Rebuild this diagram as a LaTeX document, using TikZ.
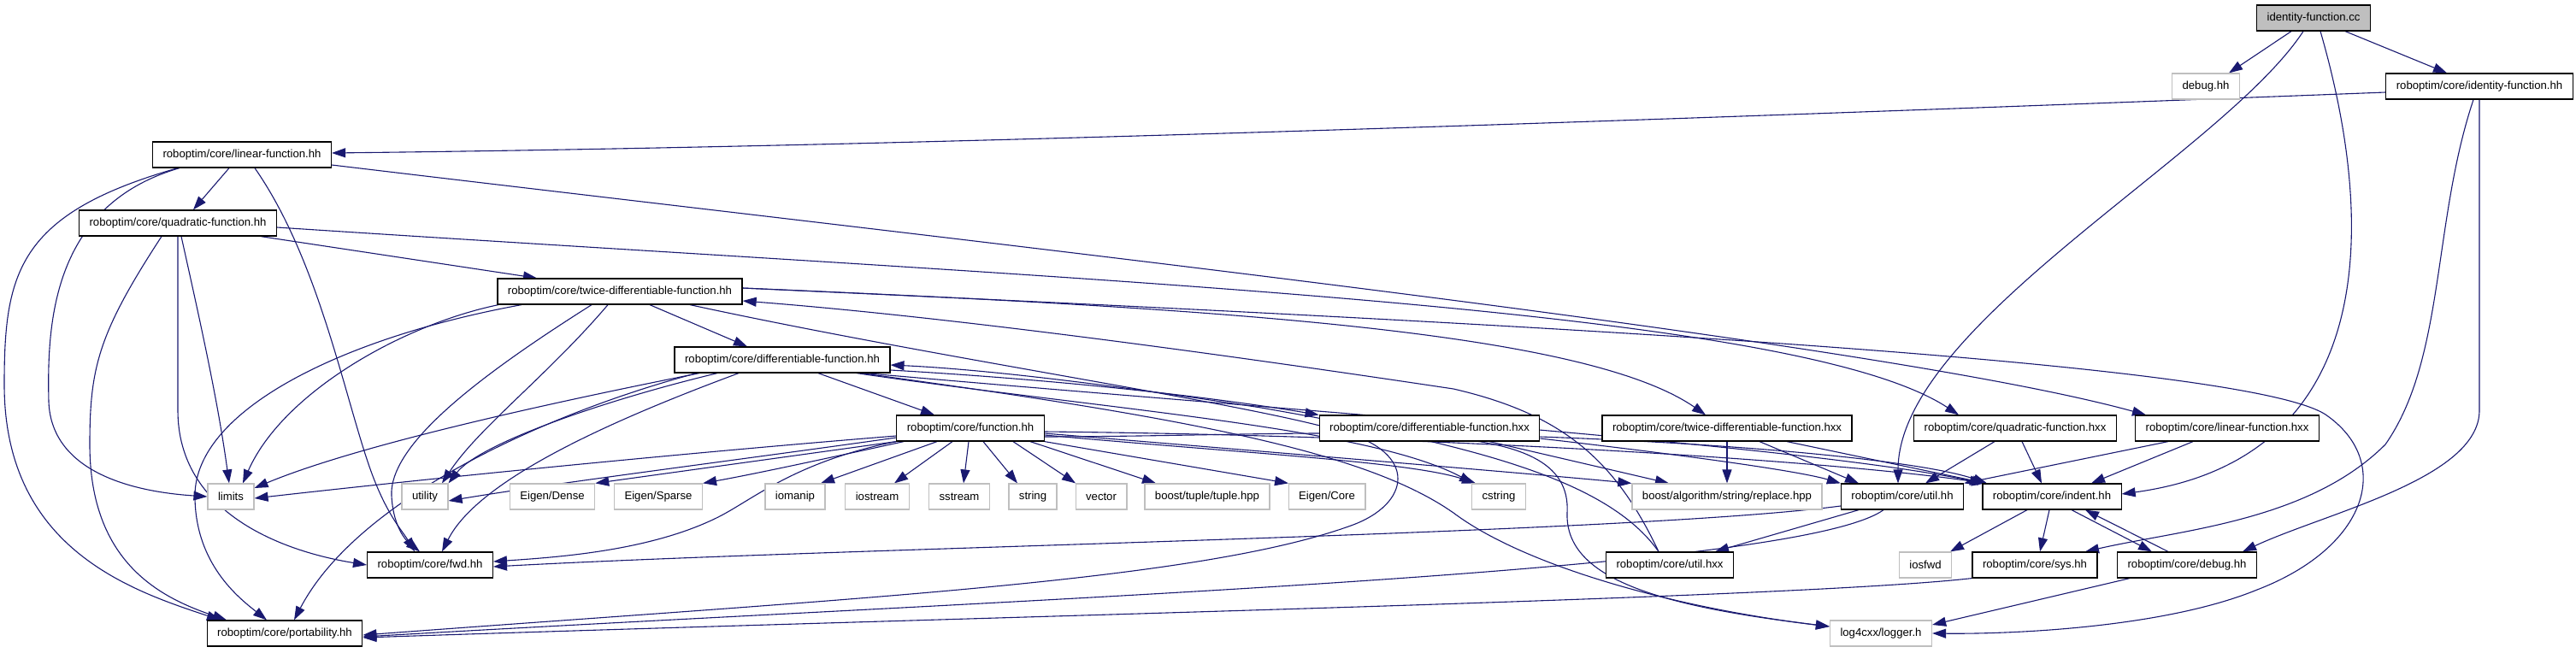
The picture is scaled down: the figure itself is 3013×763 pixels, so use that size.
\documentclass[tikz,border=0pt]{standalone}
\usepackage{fontspec}
\setmainfont{Liberation Sans}
\usetikzlibrary{arrows.meta}
\definecolor{edgec}{HTML}{191970}
\definecolor{extc}{HTML}{BFBFBF}
\pgfdeclarelayer{bg}
\pgfsetlayers{bg,main}
\begin{document}
\begin{tikzpicture}[x=1pt,y=-1pt,
  fnode/.style={draw=black, fill=white, line width=1.2pt, minimum height=30pt,
    inner xsep=12pt, inner ysep=0pt, font=\fontsize{13.15pt}{15pt}\selectfont},
  xnode/.style={fnode, draw=extc},
  rnode/.style={fnode, fill=extc},
  dep/.style={draw=edgec, line width=1.1pt, -{Triangle[length=16pt,width=11pt]}}]
\useasboundingbox (0,0) rectangle (3013,763);
% row 0-1
\node[rnode] (cc) at (2706,21) {identity-function.cc};
\node[xnode] (dbgx) at (2580,101) {debug.hh};
\node[fnode] (idh) at (2900,101) {roboptim/core/identity-function.hh};
% rows 2-5
\node[fnode] (lin) at (283,181) {roboptim/core/linear-function.hh};
\node[fnode] (quad) at (208,261) {roboptim/core/quadratic-function.hh};
\node[fnode] (twice) at (725,341) {roboptim/core/twice-differentiable-function.hh};
\node[fnode] (diff) at (915,421) {roboptim/core/differentiable-function.hh};
% row 6
\node[fnode] (func) at (1135,501) {roboptim/core/function.hh};
\node[fnode] (diffx) at (1672,501) {roboptim/core/differentiable-function.hxx};
\node[fnode] (twicex) at (2020,501) {roboptim/core/twice-differentiable-function.hxx};
\node[fnode] (quadx) at (2357,501) {roboptim/core/quadratic-function.hxx};
\node[fnode] (linx) at (2605,501) {roboptim/core/linear-function.hxx};
% row 7
\node[xnode] (limits) at (270,581) {limits};
\node[xnode] (utility) at (497,581) {utility};
\node[xnode] (edense) at (646,581) {Eigen/Dense};
\node[xnode] (esparse) at (770,581) {Eigen/Sparse};
\node[xnode] (iomanip) at (930,581) {iomanip};
\node[xnode] (iostream) at (1026,581) {iostream};
\node[xnode] (sstream) at (1122,581) {sstream};
\node[xnode] (string) at (1208,581) {string};
\node[xnode] (vector) at (1288,581) {vector};
\node[xnode] (tuple) at (1412,581) {boost/tuple/tuple.hpp};
\node[xnode] (ecore) at (1552,581) {Eigen/Core};
\node[xnode] (cstring) at (1753,581) {cstring};
\node[xnode] (replace) at (2020,581) {boost/algorithm/string/replace.hpp};
\node[fnode] (utilhh) at (2225,581) {roboptim/core/util.hh};
\node[fnode] (indent) at (2400,581) {roboptim/core/indent.hh};
% row 8
\node[fnode] (fwd) at (503,661) {roboptim/core/fwd.hh};
\node[fnode] (utilx) at (1953,661) {roboptim/core/util.hxx};
\node[xnode] (iosfwd) at (2252,661) {iosfwd};
\node[fnode] (sys) at (2380,661) {roboptim/core/sys.hh};
\node[fnode] (cdebug) at (2558,661) {roboptim/core/debug.hh};
% row 9
\node[fnode] (port) at (333,741) {roboptim/core/portability.hh};
\node[xnode] (logger) at (2200,741) {log4cxx/logger.h};

\begin{pgfonlayer}{bg}
% root
\draw[dep] ([xshift=-26pt]cc.south) -- ([xshift=27pt]dbgx.north);
\draw[dep] ([xshift=37pt]cc.south) -- ([xshift=-38pt]idh.north);
\draw[dep] ([xshift=-12pt]cc.south) .. controls (2600,180) and (2220,380) .. ([xshift=-5pt]utilhh.north);
\draw[dep] ([xshift=8pt]cc.south) .. controls (2790,300) and (2760,540) .. ([yshift=3pt]indent.east);
% identity-function.hh
\draw[dep] ([yshift=-7pt]idh.west) .. controls (1700,150) and (1000,172) .. ([yshift=2pt]lin.east);
\draw[dep] ([xshift=-7pt]idh.south) .. controls (2845,260) and (2860,420) .. (2790,520) .. controls (2700,610) and (2550,620) .. ([xshift=59pt]sys.north);
\draw[dep] (idh.south) -- (2900,480) .. controls (2900,560) and (2720,600) .. ([xshift=65pt]cdebug.north);
% linear-function.hh
\draw[dep] ([xshift=-15pt]lin.south) -- ([xshift=18pt]quad.north);
\draw[dep] ([xshift=-73pt]lin.south) .. controls (60,240) and (55,380) .. (57,470) .. controls (60,550) and (150,575) .. (limits.west);
\draw[dep] ([xshift=-75pt]lin.south) .. controls (20,250) and (5,320) .. (5,450) .. controls (5,640) and (150,690) .. ([xshift=-75pt]port.north);
\draw[dep] ([xshift=15pt]lin.south) .. controls (370,300) and (400,450) .. (430,540) .. controls (450,600) and (470,620) .. ([xshift=-18pt]fwd.north);
\draw[dep] ([yshift=-12pt]lin.east) .. controls (1200,290) and (2200,400) .. ([xshift=-95pt]linx.north);
% quadratic-function.hh
\draw[dep] ([xshift=97pt]quad.south) -- ([xshift=-97pt]twice.north);
\draw[dep] ([yshift=-5pt]quad.east) .. controls (1300,330) and (2100,360) .. ([xshift=-66pt]quadx.north);
\draw[dep] ([xshift=4pt]quad.south) .. controls (235,380) and (255,470) .. ([xshift=-2pt]limits.north);
\draw[dep] (quad.south) -- (208,480) .. controls (208,600) and (330,645) .. (fwd.west);
\draw[dep] ([xshift=-19pt]quad.south) .. controls (115,390) and (105,430) .. (105,520) .. controls (105,660) and (190,700) .. ([xshift=-68pt]port.north);
% twice-differentiable-function.hh
\draw[dep] ([xshift=35pt]twice.south) -- ([xshift=-41pt]diff.north);
\draw[dep] ([xshift=-142pt]twice.south) .. controls (470,380) and (330,460) .. ([xshift=14pt]limits.north);
\draw[dep] ([xshift=-115pt]twice.south) .. controls (400,395) and (228,480) .. (228,580) .. controls (228,660) and (280,700) .. ([xshift=-21pt]port.north);
\draw[dep] ([xshift=-33pt]twice.south) .. controls (560,440) and (455,520) .. (458,580) .. controls (460,620) and (478,635) .. ([xshift=-12pt]fwd.north);
\draw[dep] ([xshift=-14pt]twice.south) .. controls (640,440) and (560,500) .. ([xshift=20pt]utility.north);
\draw[dep] ([yshift=4pt]twice.east) .. controls (1400,360) and (1850,385) .. ([xshift=-25pt]twicex.north);
\draw[dep] ([yshift=4pt]twice.east) .. controls (1700,375) and (2620,420) .. (2720,485) .. controls (2800,540) and (2770,640) .. (2640,690) .. controls (2530,735) and (2350,742) .. (logger.east);
\draw[dep] ([xshift=82pt]twice.south) .. controls (1100,420) and (1450,470) .. (1570,505) .. controls (1660,530) and (1650,590) .. (1580,615) .. controls (1400,680) and (1000,700) .. ([yshift=-2pt]port.east);
% differentiable-function.hh
\draw[dep] ([xshift=42pt]diff.south) -- ([xshift=-42pt]func.north);
\draw[dep] ([yshift=-12pt]diff.east) .. controls (1250,445) and (1420,465) .. (diffx.north west);
\draw[dep] ([xshift=-97pt]diff.south) .. controls (650,470) and (420,520) .. ([yshift=10pt]limits.east);
\draw[dep] ([xshift=-76pt]diff.south) .. controls (700,470) and (560,520) .. (utility.north east);
\draw[dep] ([xshift=-51pt]diff.south) .. controls (720,490) and (560,560) .. ([xshift=14pt]fwd.north);
\draw[dep] ([xshift=-100pt]diff.south) .. controls (650,480) and (420,580) .. ([xshift=11pt]port.north);
\draw[dep] ([xshift=87pt]diff.south) .. controls (1300,480) and (1600,500) .. ([xshift=-30pt]cstring.north);
\draw[dep] ([xshift=92pt]diff.south) .. controls (1400,490) and (1600,530) .. (1700,600) .. controls (1780,660) and (1950,710) .. ([yshift=8pt]logger.west);
\draw[dep] ([xshift=97pt]diff.south) .. controls (1500,480) and (2100,520) .. ([xshift=-80pt]indent.north);
% function.hh
\draw[dep] ([yshift=-9pt]func.west) .. controls (800,530) and (500,560) .. ([yshift=-2pt]limits.east);
\draw[dep] ([yshift=-11pt]func.west) .. controls (850,540) and (650,565) .. ([yshift=-5pt]utility.east);
\draw[dep] (func.south west) -- (edense.north east);
\draw[dep] ([xshift=-78pt]func.south) .. controls (950,540) and (880,555) .. (esparse.north east);
\draw[dep] (func.south west) .. controls (930,540) and (880,585) .. (840,605) .. controls (760,645) and (650,652) .. ([yshift=4pt]fwd.east);
\draw[dep] ([xshift=-39pt]func.south) -- ([xshift=30pt]iomanip.north);
\draw[dep] ([xshift=-21pt]func.south) -- ([xshift=20pt]iostream.north);
\draw[dep] ([xshift=-2pt]func.south) -- ([xshift=5pt]sstream.north);
\draw[dep] ([xshift=15pt]func.south) -- ([xshift=-18pt]string.north);
\draw[dep] ([xshift=50pt]func.south) -- ([xshift=-30pt]vector.north);
\draw[dep] ([xshift=70pt]func.south) -- ([xshift=-60pt]tuple.north);
\draw[dep] (func.south east) -- ([xshift=-45pt]ecore.north);
\draw[dep] ([yshift=-8pt]func.east) .. controls (1450,530) and (1650,540) .. ([xshift=-27pt]cstring.north);
\draw[dep] ([yshift=-6pt]func.east) .. controls (1500,530) and (1800,555) .. (replace.north west);
\draw[dep] ([yshift=-4pt]func.east) .. controls (1700,510) and (2150,540) .. ([xshift=-78pt]indent.north);
\draw[dep] ([yshift=-10pt]func.east) .. controls (1600,510) and (1840,480) .. (1833,600) .. controls (1830,680) and (1950,710) .. ([yshift=8pt]logger.west);
% .hxx files
\draw[dep] ([xshift=70pt]diffx.south) -- ([xshift=-68pt]replace.north);
\draw[dep] ([yshift=-12pt]diffx.east) .. controls (1950,530) and (2100,550) .. (utilhh.north west);
\draw[dep] ([yshift=-10pt]diffx.east) .. controls (2050,520) and (2250,540) .. ([xshift=-76pt]indent.north);
\draw[dep] (twicex.south) -- (replace.north);
\draw[dep] ([xshift=38pt]twicex.south) -- ([xshift=-51pt]utilhh.north);
\draw[dep] ([xshift=70pt]twicex.south) -- ([xshift=-77pt]indent.north);
\draw[dep] ([xshift=-24pt]quadx.south) -- ([xshift=27pt]utilhh.north);
\draw[dep] ([xshift=8pt]quadx.south) -- ([xshift=-12pt]indent.north);
\draw[dep] ([xshift=-69pt]linx.south) -- (utilhh.north east);
\draw[dep] ([xshift=-40pt]linx.south) -- ([xshift=46pt]indent.north);
% util.hh, indent.hh, sys.hh, debug.hh, util.hxx
\draw[dep] ([yshift=-11pt]utilhh.west) .. controls (1900,625) and (1000,640) .. ([yshift=-2pt]fwd.east);
\draw[dep] ([xshift=-22pt]utilhh.south) .. controls (2100,670) and (1200,700) .. ([yshift=-4pt]port.east);
\draw[dep] ([xshift=-74pt]sys.south) .. controls (2100,700) and (1200,720) .. ([yshift=-5pt]port.east);
\draw[dep] ([xshift=-51pt]utilhh.south) -- ([xshift=53pt]utilx.north);
\draw[dep] ([xshift=-29pt]indent.south) -- ([xshift=29pt]iosfwd.north);
\draw[dep] ([xshift=-3pt]indent.south) -- ([xshift=6pt]sys.north);
\draw[dep] ([xshift=23pt]indent.south) -- ([xshift=-41pt]cdebug.north);
\draw[dep] ([xshift=-22pt]cdebug.north) -- ([xshift=39pt]indent.south);
\draw[dep] ([xshift=-67pt]cdebug.south) -- ([yshift=10pt]logger.east);
\draw[dep] ([xshift=-13pt]utilx.north) .. controls (1880,560) and (1720,520) .. (1475,477) .. controls (1300,450) and (1150,432) .. ([yshift=-6pt]diff.east);
\draw[dep] ([xshift=-13pt]utilx.north) .. controls (1890,540) and (1830,485) .. (1700,455) .. controls (1400,410) and (1100,370) .. ([yshift=-11pt]twice.east);
\end{pgfonlayer}
\end{tikzpicture}
\end{document}
